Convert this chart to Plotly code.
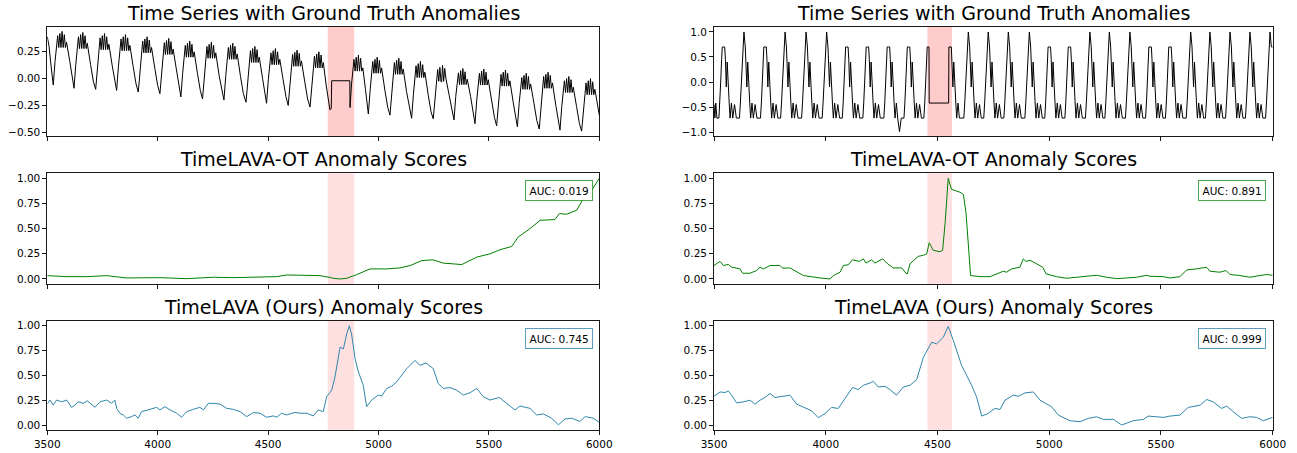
import plotly.graph_objects as go

# ---------------- data ----------------
X_TICKS = [3500, 4000, 4500, 5000, 5500, 6000]

# top-left raw series (key vertices, one line per cycle)
TL_X = [3500, 3508, 3517,
        3527, 3535, 3542, 3547, 3552, 3557, 3562, 3567, 3572, 3577, 3582, 3587, 3602, 3615,
        3621, 3629, 3636, 3641, 3646, 3651, 3656, 3661, 3666, 3671, 3676, 3681, 3696, 3709,
        3719, 3727, 3734, 3739, 3744, 3749, 3754, 3759, 3764, 3769, 3774, 3779, 3794, 3807,
        3814, 3822, 3829, 3834, 3839, 3844, 3849, 3854, 3859, 3864, 3869, 3874, 3889, 3902,
        3912, 3920, 3927, 3932, 3937, 3942, 3947, 3952, 3957, 3962, 3967, 3972, 3987, 4000,
        4010, 4018, 4025, 4030, 4035, 4040, 4045, 4050, 4055, 4060, 4065, 4070, 4085, 4098,
        4105, 4113, 4120, 4125, 4130, 4135, 4140, 4145, 4150, 4155, 4160, 4165, 4180, 4193,
        4203, 4211, 4218, 4223, 4228, 4233, 4238, 4243, 4248, 4253, 4258, 4263, 4278, 4291,
        4300, 4308, 4315, 4320, 4325, 4330, 4335, 4340, 4345, 4350, 4355, 4360, 4375, 4388,
        4400, 4408, 4415, 4420, 4425, 4430, 4435, 4440, 4445, 4450, 4455, 4460, 4475, 4488,
        4493, 4501, 4508, 4513, 4518, 4523, 4528, 4533, 4538, 4543, 4548, 4553, 4568, 4581,
        4591, 4599, 4606, 4611, 4616, 4621, 4626, 4631, 4636, 4641, 4646, 4651, 4666, 4679,
        4690, 4698, 4705, 4710, 4715, 4720, 4725, 4730, 4735, 4740, 4745, 4750, 4763, 4773,
        4780, 4786, 4788, 4870, 4871, 4878, 4884, 4889, 4894, 4899, 4904, 4909, 4914, 4919, 4924, 4929, 4941, 4949,
        4954, 4962, 4969, 4974, 4979, 4984, 4989, 4994, 4999, 5004, 5009, 5014, 5029, 5042,
        5052, 5060, 5067, 5072, 5077, 5082, 5087, 5092, 5097, 5102, 5107, 5112, 5127, 5140,
        5150, 5158, 5165, 5170, 5175, 5180, 5185, 5190, 5195, 5200, 5205, 5210, 5225, 5238,
        5248, 5256, 5263, 5268, 5273, 5278, 5283, 5286, 5290, 5295, 5300, 5305, 5320, 5333,
        5342, 5350, 5357, 5362, 5367, 5372, 5377, 5382, 5387, 5392, 5397, 5402, 5417, 5430,
        5437, 5445, 5452, 5457, 5462, 5467, 5472, 5477, 5482, 5487, 5492, 5497, 5512, 5525,
        5535, 5543, 5550, 5555, 5560, 5565, 5570, 5575, 5580, 5585, 5590, 5595, 5610, 5622,
        5629, 5637, 5644, 5649, 5654, 5659, 5664, 5669, 5674, 5679, 5684, 5689, 5704, 5717,
        5728, 5736, 5743, 5748, 5753, 5758, 5763, 5768, 5773, 5778, 5783, 5788, 5803, 5815,
        5822, 5830, 5837, 5842, 5847, 5852, 5857, 5862, 5867, 5872, 5877, 5882, 5897, 5910,
        5920, 5928, 5935, 5940, 5945, 5950, 5955, 5960, 5965, 5970, 5975, 5980, 5990, 6000]
TL_Y = [0.39, 0.30, 0.12,
        -0.06, 0.16, 0.29, 0.40, 0.29, 0.42, 0.29, 0.44, 0.29, 0.41, 0.29, 0.34, 0.16, 0.00,
        -0.09, 0.13, 0.28, 0.39, 0.28, 0.41, 0.28, 0.43, 0.28, 0.40, 0.28, 0.33, 0.13, -0.03,
        -0.10, 0.12, 0.27, 0.38, 0.27, 0.40, 0.27, 0.42, 0.27, 0.39, 0.27, 0.32, 0.12, -0.04,
        -0.11, 0.11, 0.26, 0.37, 0.26, 0.39, 0.26, 0.41, 0.26, 0.38, 0.26, 0.31, 0.11, -0.05,
        -0.125, 0.095, 0.24, 0.35, 0.24, 0.37, 0.24, 0.39, 0.24, 0.36, 0.24, 0.29, 0.095, -0.065,
        -0.14, 0.08, 0.225, 0.335, 0.225, 0.355, 0.225, 0.375, 0.225, 0.345, 0.225, 0.275, 0.08, -0.08,
        -0.17, 0.05, 0.20, 0.31, 0.20, 0.33, 0.20, 0.35, 0.20, 0.32, 0.20, 0.25, 0.05, -0.11,
        -0.19, 0.03, 0.19, 0.30, 0.19, 0.32, 0.19, 0.34, 0.19, 0.31, 0.19, 0.24, 0.03, -0.13,
        -0.20, 0.02, 0.18, 0.29, 0.18, 0.31, 0.18, 0.33, 0.18, 0.30, 0.18, 0.23, 0.02, -0.14,
        -0.22, 0.00, 0.15, 0.26, 0.15, 0.28, 0.15, 0.30, 0.15, 0.27, 0.15, 0.20, 0.00, -0.16,
        -0.23, -0.01, 0.13, 0.24, 0.13, 0.26, 0.13, 0.28, 0.13, 0.25, 0.13, 0.18, -0.01, -0.17,
        -0.25, -0.03, 0.115, 0.225, 0.115, 0.245, 0.115, 0.265, 0.115, 0.235, 0.115, 0.165, -0.03, -0.19,
        -0.265, -0.045, 0.10, 0.21, 0.10, 0.23, 0.10, 0.25, 0.10, 0.22, 0.10, 0.15, -0.06, -0.22,
        -0.29, -0.28, -0.02, -0.02, -0.27, -0.05, 0.07, 0.18, 0.07, 0.20, 0.07, 0.22, 0.07, 0.19, 0.07, 0.10, -0.10, -0.25,
        -0.33, -0.11, 0.05, 0.16, 0.05, 0.18, 0.05, 0.20, 0.05, 0.17, 0.05, 0.10, -0.11, -0.27,
        -0.34, -0.12, 0.04, 0.15, 0.04, 0.17, 0.04, 0.19, 0.04, 0.16, 0.04, 0.09, -0.12, -0.28,
        -0.37, -0.15, 0.01, 0.12, 0.01, 0.14, 0.01, 0.16, 0.01, 0.13, 0.01, 0.06, -0.15, -0.31,
        -0.375, -0.155, -0.025, 0.085, -0.025, 0.105, -0.03, -0.03, 0.125, -0.025, 0.095, 0.005, -0.155, -0.315,
        -0.385, -0.165, -0.056, 0.054, -0.056, 0.074, -0.056, 0.094, -0.056, 0.064, -0.056, -0.006, -0.165, -0.325,
        -0.42, -0.20, -0.06, 0.05, -0.06, 0.07, -0.06, 0.09, -0.06, 0.06, -0.06, -0.01, -0.20, -0.36,
        -0.44, -0.22, -0.07, 0.04, -0.07, 0.06, -0.07, 0.08, -0.07, 0.05, -0.07, -0.02, -0.22, -0.38,
        -0.45, -0.23, -0.10, 0.01, -0.10, 0.03, -0.10, 0.05, -0.10, 0.02, -0.10, -0.05, -0.23, -0.39,
        -0.47, -0.25, -0.09, 0.02, -0.09, 0.04, -0.09, 0.06, -0.09, 0.03, -0.09, -0.04, -0.25, -0.41,
        -0.48, -0.26, -0.13, -0.02, -0.13, 0.00, -0.13, 0.02, -0.13, -0.01, -0.13, -0.08, -0.26, -0.42,
        -0.49, -0.27, -0.15, -0.04, -0.15, -0.02, -0.15, 0.00, -0.15, -0.03, -0.15, -0.10, -0.22, -0.34]

# top-right raw series (key vertices, one line per cycle)
TR_X = [3500, 3504, 3508, 3513,
        3522, 3526, 3530, 3534, 3537, 3542, 3548, 3551, 3555, 3559, 3563, 3568, 3572, 3578, 3584, 3592, 3600,
        3614, 3618, 3622, 3626, 3629, 3634, 3640, 3643, 3647, 3651, 3655, 3660, 3664, 3670, 3676, 3684, 3692,
        3708, 3712, 3716, 3720, 3723, 3728, 3734, 3737, 3741, 3745, 3749, 3754, 3758, 3764, 3770, 3778, 3786,
        3798, 3802, 3806, 3810, 3813, 3818, 3824, 3827, 3831, 3835, 3839, 3844, 3848, 3854, 3860, 3868, 3876,
        3892, 3896, 3900, 3904, 3907, 3912, 3918, 3921, 3925, 3929, 3933, 3938, 3942, 3948, 3954, 3962, 3970,
        3984, 3988, 3992, 3996, 3999, 4004, 4010, 4013, 4017, 4021, 4025, 4030, 4034, 4040, 4046, 4054, 4062,
        4074, 4078, 4082, 4086, 4089, 4094, 4100, 4103, 4107, 4111, 4115, 4120, 4124, 4130, 4136, 4144, 4152,
        4166, 4170, 4174, 4178, 4181, 4186, 4192, 4195, 4199, 4203, 4207, 4212, 4216, 4222, 4228, 4236, 4244,
        4260, 4264, 4268, 4272, 4275, 4280, 4286, 4289, 4293, 4297, 4301, 4306, 4310, 4316, 4322, 4330, 4338,
        4350, 4354, 4358, 4362, 4365, 4370, 4376, 4379, 4383, 4387, 4391, 4396, 4400, 4406, 4412, 4420, 4428,
        4439, 4443, 4447, 4451, 4454, 4462, 4463, 4550, 4551, 4562, 4565, 4569, 4573, 4577, 4582, 4586, 4592, 4598,
        4618, 4622, 4626, 4630, 4633, 4638, 4644, 4647, 4651, 4655, 4659, 4664, 4668, 4674, 4680, 4688, 4696,
        4707, 4711, 4715, 4719, 4722, 4727, 4733, 4736, 4740, 4744, 4748, 4753, 4757, 4763, 4769, 4777, 4785,
        4797, 4801, 4805, 4809, 4812, 4817, 4823, 4826, 4830, 4834, 4838, 4843, 4847, 4853, 4859, 4867, 4875,
        4891, 4895, 4899, 4903, 4906, 4911, 4917, 4920, 4924, 4928, 4932, 4937, 4941, 4947, 4953, 4961, 4969,
        4980, 4984, 4988, 4992, 4995, 5000, 5006, 5009, 5013, 5017, 5021, 5026, 5030, 5036, 5042, 5050, 5058,
        5070, 5074, 5078, 5082, 5085, 5090, 5096, 5099, 5103, 5107, 5111, 5116, 5120, 5126, 5132, 5140, 5148,
        5162, 5166, 5170, 5174, 5177, 5182, 5188, 5191, 5195, 5199, 5203, 5208, 5212, 5218, 5224, 5232, 5240,
        5249, 5253, 5257, 5261, 5264, 5269, 5275, 5278, 5282, 5286, 5290, 5295, 5299, 5305, 5311, 5319, 5327,
        5341, 5345, 5349, 5353, 5356, 5361, 5367, 5370, 5374, 5378, 5382, 5387, 5391, 5397, 5403, 5411, 5419,
        5431, 5435, 5439, 5443, 5446, 5451, 5457, 5460, 5464, 5468, 5472, 5477, 5481, 5487, 5493, 5501, 5509,
        5520, 5524, 5528, 5532, 5535, 5540, 5546, 5549, 5553, 5557, 5561, 5566, 5570, 5576, 5582, 5590, 5598,
        5613, 5617, 5621, 5625, 5628, 5633, 5639, 5642, 5646, 5650, 5654, 5659, 5663, 5669, 5675, 5683, 5691,
        5699, 5703, 5707, 5711, 5714, 5719, 5725, 5728, 5732, 5736, 5740, 5745, 5749, 5755, 5761, 5769, 5777,
        5789, 5793, 5797, 5801, 5804, 5809, 5815, 5818, 5822, 5826, 5830, 5835, 5839, 5845, 5851, 5859, 5867,
        5878, 5882, 5886, 5890, 5893, 5898, 5904, 5907, 5911, 5915, 5919, 5924, 5928, 5934, 5940, 5948, 5956,
        5968, 5972, 5976, 5980, 5983, 5988, 5994, 6000]
TR_Y = [-0.45, -0.72, -0.42, -0.72,
        -0.72, -0.42, 0.0, 0.45, 0.70, 0.70, 0.70, 0.45, -0.10, 0.40, -0.10, -0.42, -0.72, -0.42, -0.72, -0.45, -0.72,
        -0.72, -0.42, 0.0, 0.45, 0.70, 1.00, 0.70, 0.45, -0.10, 0.40, -0.10, -0.42, -0.72, -0.42, -0.72, -0.45, -0.72,
        -0.72, -0.42, 0.0, 0.45, 0.70, 0.70, 0.70, 0.45, -0.10, 0.40, -0.10, -0.42, -0.72, -0.42, -0.72, -0.45, -0.72,
        -0.72, -0.42, 0.0, 0.45, 0.70, 1.00, 0.70, 0.45, -0.10, 0.40, -0.10, -0.42, -0.72, -0.42, -0.72, -0.45, -0.72,
        -0.72, -0.42, 0.0, 0.45, 0.70, 1.00, 0.70, 0.45, -0.10, 0.40, -0.10, -0.42, -0.72, -0.42, -0.72, -0.45, -0.72,
        -0.72, -0.42, 0.0, 0.45, 0.70, 1.00, 0.70, 0.45, -0.10, 0.40, -0.10, -0.42, -0.72, -0.42, -0.72, -0.45, -0.72,
        -0.72, -0.42, 0.0, 0.45, 0.70, 0.70, 0.70, 0.45, -0.10, 0.40, -0.10, -0.42, -0.72, -0.42, -0.72, -0.45, -0.72,
        -0.72, -0.42, 0.0, 0.45, 0.70, 0.70, 0.70, 0.45, -0.10, 0.40, -0.10, -0.42, -0.72, -0.42, -0.72, -0.45, -0.72,
        -0.72, -0.42, 0.0, 0.45, 0.70, 0.70, 0.70, 0.45, -0.10, 0.40, -0.10, -0.42, -0.72, -0.42, -0.72, -0.99, -0.72,
        -0.72, -0.42, 0.0, 0.45, 0.70, 0.70, 0.70, 0.45, -0.10, 0.40, -0.10, -0.42, -0.72, -0.42, -0.72, -0.45, -0.72,
        -0.72, -0.42, 0.0, 0.45, 0.70, 0.70, -0.42, -0.42, 0.70, 0.70, 0.45, -0.10, 0.40, -0.10, -0.42, -0.72, -0.42, -0.72,
        -0.72, -0.42, 0.0, 0.45, 0.70, 1.00, 0.70, 0.45, -0.10, 0.40, -0.10, -0.42, -0.72, -0.42, -0.72, -0.45, -0.72,
        -0.72, -0.42, 0.0, 0.45, 0.70, 1.00, 0.70, 0.45, -0.10, 0.40, -0.10, -0.42, -0.72, -0.42, -0.72, -0.45, -0.72,
        -0.72, -0.42, 0.0, 0.45, 0.70, 1.00, 0.70, 0.45, -0.10, 0.40, -0.10, -0.42, -0.72, -0.42, -0.72, -0.45, -0.72,
        -0.72, -0.42, 0.0, 0.45, 0.70, 1.00, 0.70, 0.45, -0.10, 0.40, -0.10, -0.42, -0.72, -0.42, -0.72, -0.45, -0.72,
        -0.72, -0.42, 0.0, 0.45, 0.70, 0.70, 0.70, 0.45, -0.10, 0.40, -0.10, -0.42, -0.72, -0.42, -0.72, -0.45, -0.72,
        -0.72, -0.42, 0.0, 0.45, 0.70, 0.70, 0.70, 0.45, -0.10, 0.40, -0.10, -0.42, -0.72, -0.42, -0.72, -0.45, -0.72,
        -0.72, -0.42, 0.0, 0.45, 0.70, 1.00, 0.70, 0.45, -0.10, 0.40, -0.10, -0.42, -0.72, -0.42, -0.72, -0.45, -0.72,
        -0.72, -0.42, 0.0, 0.45, 0.70, 1.00, 0.70, 0.45, -0.10, 0.40, -0.10, -0.42, -0.72, -0.42, -0.72, -0.45, -0.72,
        -0.72, -0.42, 0.0, 0.45, 0.70, 1.00, 0.70, 0.45, -0.10, 0.40, -0.10, -0.42, -0.72, -0.42, -0.72, -0.45, -0.72,
        -0.72, -0.42, 0.0, 0.45, 0.70, 0.70, 0.70, 0.45, -0.10, 0.40, -0.10, -0.42, -0.72, -0.42, -0.72, -0.45, -0.72,
        -0.72, -0.42, 0.0, 0.45, 0.70, 0.70, 0.70, 0.45, -0.10, 0.40, -0.10, -0.42, -0.72, -0.42, -0.72, -0.45, -0.72,
        -0.72, -0.42, 0.0, 0.45, 0.70, 1.00, 0.70, 0.45, -0.10, 0.40, -0.10, -0.42, -0.72, -0.42, -0.72, -0.45, -0.72,
        -0.72, -0.42, 0.0, 0.45, 0.70, 1.00, 0.70, 0.45, -0.10, 0.40, -0.10, -0.42, -0.72, -0.42, -0.72, -0.45, -0.72,
        -0.72, -0.42, 0.0, 0.45, 0.70, 1.00, 0.70, 0.45, -0.10, 0.40, -0.10, -0.42, -0.72, -0.42, -0.72, -0.45, -0.72,
        -0.72, -0.42, 0.0, 0.45, 0.70, 1.00, 0.70, 0.45, -0.10, 0.40, -0.10, -0.42, -0.72, -0.42, -0.72, -0.45, -0.72,
        -0.72, -0.42, 0.0, 0.45, 0.70, 1.00, 0.70, 0.70]

# TimeLAVA-OT scores
ML_X = [3500, 3588, 3678, 3769, 3859, 3920, 4010, 4131, 4252, 4342, 4433, 4539, 4584, 4675,
        4735, 4780, 4795, 4826, 4856, 4901, 4962, 5037, 5097, 5143, 5196, 5248, 5294, 5339,
        5377, 5445, 5505, 5550, 5603, 5633, 5686, 5732, 5799, 5819, 5852, 5898, 5928, 5966, 6000]
ML_Y = [0.033, 0.023, 0.023, 0.033, 0.010, 0.010, 0.013, 0.003, 0.017, 0.013, 0.020, 0.023, 0.040, 0.040,
        0.033, 0.015, 0.007, 0.000, 0.007, 0.043, 0.100, 0.100, 0.110, 0.133, 0.183, 0.190, 0.157, 0.150,
        0.143, 0.217, 0.250, 0.290, 0.323, 0.417, 0.500, 0.583, 0.590, 0.650, 0.643, 0.683, 0.800, 0.883, 1.000]

MR_X = [3500, 3527, 3542, 3564, 3579, 3616, 3628, 3661, 3691, 3706, 3721, 3751, 3795, 3807, 3840,
        3885, 3900, 3974, 4019, 4034, 4064, 4079, 4101, 4120, 4150, 4168, 4180, 4205, 4220, 4255,
        4273, 4302, 4340, 4359, 4365, 4377, 4414, 4437, 4452, 4463, 4481, 4511, 4523, 4534, 4548,
        4563, 4601, 4616, 4628, 4648, 4690, 4735, 4765, 4795, 4809, 4832, 4869, 4884, 4896, 4914,
        4944, 4971, 4986, 5033, 5078, 5123, 5167, 5212, 5257, 5302, 5346, 5391, 5436, 5451, 5510,
        5540, 5585, 5615, 5660, 5704, 5719, 5764, 5791, 5809, 5853, 5898, 5943, 5973, 6000]
MR_Y = [0.134, 0.175, 0.134, 0.144, 0.117, 0.100, 0.057, 0.057, 0.084, 0.117, 0.100, 0.134, 0.134, 0.107, 0.110,
        0.050, 0.034, 0.010, 0.000, 0.034, 0.067, 0.134, 0.141, 0.191, 0.174, 0.200, 0.158, 0.190, 0.158, 0.200,
        0.158, 0.110, 0.110, 0.057, 0.050, 0.150, 0.225, 0.235, 0.250, 0.360, 0.285, 0.270, 0.285, 0.553, 1.000,
        0.890, 0.862, 0.840, 0.650, 0.034, 0.023, 0.023, 0.050, 0.077, 0.067, 0.100, 0.117, 0.200, 0.174, 0.185,
        0.150, 0.117, 0.050, 0.023, 0.007, 0.017, 0.034, 0.037, 0.017, 0.003, 0.010, 0.017, 0.037, 0.027, 0.023,
        0.010, 0.023, 0.090, 0.100, 0.117, 0.077, 0.067, 0.084, 0.044, 0.034, 0.017, 0.034, 0.044, 0.037]

# TimeLAVA (Ours) scores
BL_X = [3500, 3512, 3527, 3542, 3565, 3588, 3610, 3625, 3640, 3663, 3681, 3693, 3716, 3739, 3769,
        3791, 3806, 3814, 3829, 3844, 3859, 3882, 3897, 3912, 3927, 3965, 3995, 4010, 4033, 4056,
        4086, 4108, 4131, 4161, 4191, 4207, 4229, 4252, 4282, 4312, 4342, 4373, 4403, 4433, 4463,
        4493, 4524, 4539, 4561, 4584, 4622, 4644, 4675, 4705, 4727, 4750, 4765, 4780, 4788, 4803,
        4826, 4841, 4856, 4868, 4878, 4894, 4909, 4931, 4946, 4969, 4999, 5014, 5037, 5060, 5082,
        5128, 5165, 5188, 5215, 5248, 5271, 5294, 5324, 5354, 5384, 5414, 5445, 5475, 5505, 5547,
        5580, 5618, 5641, 5686, 5716, 5747, 5784, 5815, 5845, 5875, 5913, 5935, 5973, 6000]
BL_Y = [0.215, 0.255, 0.205, 0.255, 0.238, 0.255, 0.182, 0.205, 0.238, 0.222, 0.248, 0.222, 0.182, 0.238, 0.255,
        0.222, 0.255, 0.172, 0.120, 0.106, 0.073, 0.089, 0.106, 0.073, 0.139, 0.162, 0.182, 0.156, 0.189, 0.156,
        0.123, 0.083, 0.139, 0.162, 0.182, 0.156, 0.222, 0.222, 0.215, 0.172, 0.162, 0.139, 0.089, 0.129, 0.123,
        0.083, 0.096, 0.083, 0.123, 0.106, 0.132, 0.123, 0.123, 0.096, 0.156, 0.139, 0.288, 0.330, 0.354, 0.487,
        0.785, 0.768, 0.917, 1.000, 0.917, 0.669, 0.536, 0.404, 0.189, 0.255, 0.305, 0.295, 0.371, 0.394, 0.437,
        0.570, 0.652, 0.603, 0.626, 0.570, 0.420, 0.371, 0.380, 0.354, 0.305, 0.328, 0.371, 0.288, 0.255, 0.281,
        0.222, 0.156, 0.195, 0.172, 0.106, 0.116, 0.073, 0.007, 0.066, 0.073, 0.040, 0.089, 0.073, 0.030]

BR_X = [3500, 3527, 3549, 3564, 3579, 3601, 3631, 3661, 3683, 3706, 3728, 3751, 3773, 3810, 3840,
        3870, 3900, 3937, 3967, 3997, 4026, 4056, 4086, 4120, 4146, 4168, 4198, 4213, 4235, 4265,
        4287, 4317, 4347, 4377, 4407, 4437, 4474, 4496, 4526, 4548, 4571, 4608, 4653, 4675, 4698,
        4727, 4757, 4780, 4802, 4839, 4862, 4891, 4929, 4959, 5011, 5041, 5093, 5138, 5175, 5212,
        5242, 5287, 5324, 5376, 5421, 5443, 5481, 5510, 5540, 5585, 5622, 5675, 5704, 5734, 5771,
        5794, 5824, 5861, 5898, 5928, 5958, 6000]
BR_Y = [0.290, 0.333, 0.327, 0.343, 0.300, 0.223, 0.233, 0.250, 0.210, 0.250, 0.277, 0.317, 0.277, 0.290, 0.300,
        0.210, 0.177, 0.143, 0.073, 0.117, 0.177, 0.167, 0.267, 0.377, 0.357, 0.400, 0.423, 0.440, 0.383, 0.390,
        0.357, 0.300, 0.383, 0.400, 0.457, 0.683, 0.833, 0.817, 0.883, 0.993, 0.850, 0.600, 0.400, 0.283, 0.090,
        0.117, 0.167, 0.157, 0.250, 0.300, 0.290, 0.323, 0.333, 0.250, 0.183, 0.100, 0.043, 0.033, 0.067, 0.083,
        0.057, 0.057, 0.000, 0.043, 0.057, 0.090, 0.083, 0.077, 0.090, 0.100, 0.177, 0.200, 0.257, 0.233, 0.167,
        0.190, 0.133, 0.067, 0.083, 0.077, 0.043, 0.077]

ANOMALY_LEFT = [4770, 4890]
ANOMALY_RIGHT = [4455, 4565]
AUC_LEFT = ["AUC: 0.019", "AUC: 0.745"]
AUC_RIGHT = ["AUC: 0.891", "AUC: 0.999"]
TITLES = ["Time Series with Ground Truth Anomalies",
          "TimeLAVA-OT Anomaly Scores",
          "TimeLAVA (Ours) Anomaly Scores"]

# ---------------- styling / layout ----------------
W, H = 1297, 453
FONT = "DejaVu Sans"
GREEN = "#008000"
BLUE = "#2E86AB"

# panel edges in window pixels (from the reference)
col_px = [(47.3, 599.3), (714.0, 1272.7)]
row_px = [(26.7, 136.0), (173.3, 284.0), (320.7, 430.0)]

fig = go.Figure()

series = {
    (0, 0): (TL_X, TL_Y, "black", 1.0),
    (0, 1): (TR_X, TR_Y, "black", 1.0),
    (1, 0): (ML_X, ML_Y, GREEN, 1.0),
    (1, 1): (MR_X, MR_Y, GREEN, 1.0),
    (2, 0): (BL_X, BL_Y, BLUE, 1.0),
    (2, 1): (BR_X, BR_Y, BLUE, 1.0),
}

y_specs = {
    (0, 0): ([-0.535, 0.484], [-0.5, -0.25, 0, 0.25], ["\u22120.50", "\u22120.25", "0.00", "0.25"]),
    (0, 1): ([-1.078, 1.105], [-1, -0.5, 0, 0.5, 1], ["\u22121.0", "\u22120.5", "0.0", "0.5", "1.0"]),
}
score_ticks = ([0, 0.25, 0.5, 0.75, 1.0], ["0.00", "0.25", "0.50", "0.75", "1.00"])
for r in (1, 2):
    for c in (0, 1):
        rng = [-0.05, 1.05]
        if (r, c) == (2, 0):
            rng = [-0.045, 1.05]
        y_specs[(r, c)] = (rng, score_ticks[0], score_ticks[1])

layout = dict(
    width=W, height=H,
    margin=dict(l=0, r=0, t=0, b=0, autoexpand=False),
    paper_bgcolor="white", plot_bgcolor="white",
    showlegend=False,
    font=dict(family=FONT, color="black"),
)

shapes = []
annotations = []

for r in range(3):
    for c in range(2):
        idx = r * 2 + c + 1
        xs = "" if idx == 1 else str(idx)
        x0, x1 = col_px[c]
        y0, y1 = row_px[r]
        xd = [x0 / W, x1 / W]
        yd = [1 - y1 / H, 1 - y0 / H]
        layout["xaxis" + xs] = dict(
            domain=xd, anchor="y" + xs, range=[3500, 6000],
            tickvals=X_TICKS, ticktext=[str(v) for v in X_TICKS],
            showticklabels=(r == 2), automargin=False,
            ticks="outside", ticklen=4, tickwidth=0.9, tickcolor="black",
            showline=True, mirror=True, linecolor="black", linewidth=0.9,
            showgrid=False, zeroline=False,
            tickfont=dict(family=FONT, size=10.5, color="black"),
        )
        rng, tv, tt = y_specs[(r, c)]
        layout["yaxis" + xs] = dict(
            domain=yd, anchor="x" + xs, range=rng,
            tickvals=tv, ticktext=tt, automargin=False,
            ticks="outside", ticklen=4, tickwidth=0.9, tickcolor="black",
            showline=True, mirror=True, linecolor="black", linewidth=0.9,
            showgrid=False, zeroline=False,
            tickfont=dict(family=FONT, size=10.5, color="black"),
        )
        xs_, ys_, col, lw = series[(r, c)]
        fig.add_trace(go.Scatter(x=xs_, y=ys_, mode="lines",
                                 line=dict(color=col, width=lw),
                                 xaxis="x" + xs, yaxis="y" + xs,
                                 hoverinfo="skip"))
        an = ANOMALY_LEFT if c == 0 else ANOMALY_RIGHT
        shapes.append(dict(type="rect", xref="x" + xs, yref="y" + xs + " domain",
                           x0=an[0], x1=an[1], y0=0, y1=1,
                           fillcolor="rgba(255,0,0,0.2)" if r == 0 else "rgba(255,0,0,0.12)",
                           line=dict(width=0), layer="below"))
        # panel title
        annotations.append(dict(text=TITLES[r], xref="paper", yref="paper",
                                x=(xd[0] + xd[1]) / 2, y=yd[1], xanchor="center",
                                yanchor="bottom", yshift=1, showarrow=False,
                                font=dict(family=FONT, size=19, color="black")))
        if r > 0:
            txt = (AUC_LEFT if c == 0 else AUC_RIGHT)[r - 1]
            bc = "rgba(0,128,0,0.7)" if r == 1 else "rgba(46,134,171,0.8)"
            annotations.append(dict(text=txt, xref="x" + xs + " domain",
                                    yref="y" + xs + " domain",
                                    x=0.988, y=0.935, xanchor="right", yanchor="top",
                                    showarrow=False, bgcolor="white",
                                    bordercolor=bc, borderwidth=1, borderpad=3.5,
                                    font=dict(family=FONT, size=10.5, color="black")))

layout["shapes"] = shapes
layout["annotations"] = annotations
fig.update_layout(**layout)
# remove the default 8px page margin so the figure sits at the window origin
fig.write_html("out.html", config={"displayModeBar": False, "staticPlot": True},
               post_script="document.body.style.margin='0px';")
